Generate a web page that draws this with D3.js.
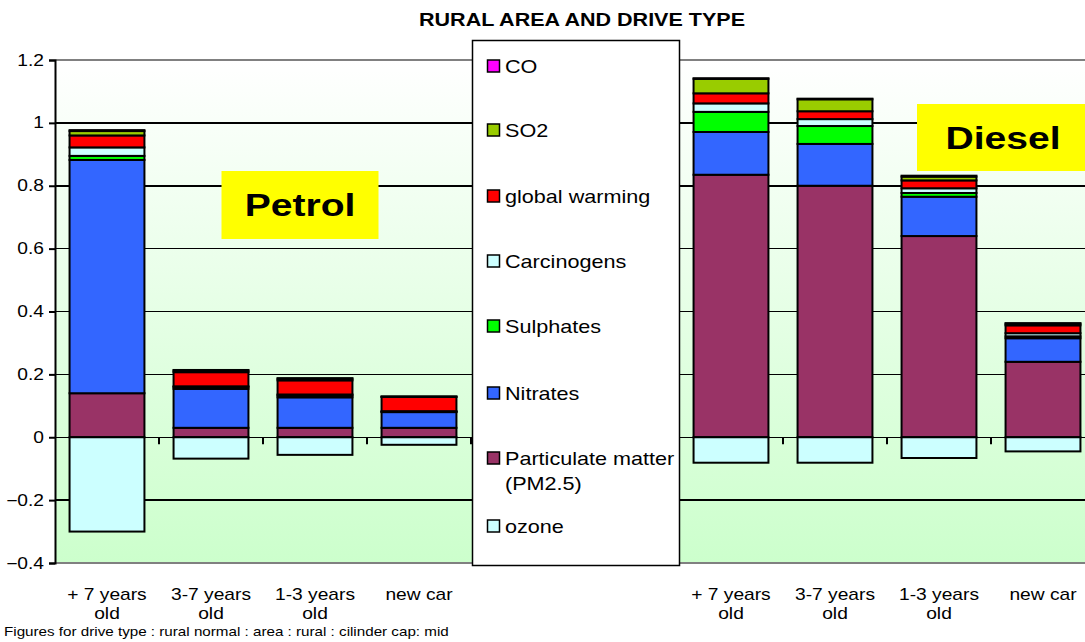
<!DOCTYPE html>
<html>
<head>
<meta charset="utf-8">
<script src="https://cdn.jsdelivr.net/npm/d3@7"></script>
<style>
  html, body { margin: 0; padding: 0; background: #ffffff; }
  svg { display: block; font-family: Arial, "Liberation Sans", sans-serif; }
</style>
</head>
<body>
<svg id="chart" width="1085" height="642"></svg>
<script>
// ---------------- DATA ----------------
const categories = ["+ 7 years|old", "3-7 years|old", "1-3 years|old", "new car", "", "",
                    "+ 7 years|old", "3-7 years|old", "1-3 years|old", "new car"];
const yTicks = [-0.4, -0.2, 0, 0.2, 0.4, 0.6, 0.8, 1, 1.2];

const ozone        = [-0.30, -0.068, -0.056, -0.024, null, null, -0.081, -0.081, -0.066, -0.045];
const particulate  = [0.140, 0.030, 0.030, 0.030, null, null, 0.835, 0.800, 0.640, 0.240];
const nitrates     = [0.742, 0.124, 0.097, 0.050, null, null, 0.136, 0.133, 0.125, 0.075];
const sulphates    = [0.013, 0.006, 0.006, 0.001, null, null, 0.064, 0.057, 0.012, 0.006];
const carcinogens  = [0.027, 0.002, 0.003, 0.002, null, null, 0.027, 0.022, 0.015, 0.010];
const globalWarm   = [0.038, 0.045, 0.045, 0.045, null, null, 0.032, 0.025, 0.025, 0.025];
const so2          = [0.014, 0.005, 0.005, 0.001, null, null, 0.046, 0.038, 0.012, 0.005];
const co           = [0.003, 0.002, 0.002, 0.001, null, null, 0.002, 0.002, 0.003, 0.002];

const seriesNames  = ["Particulate matter (PM2.5)", "Nitrates", "Sulphates", "Carcinogens", "global warming", "SO2", "CO"];
const seriesValues = [particulate, nitrates, sulphates, carcinogens, globalWarm, so2, co];
const seriesColors = ["#993366", "#3366ff", "#00ff00", "#ccffff", "#ff0000", "#99cc00", "#ff00ff"];
const ozoneColor = "#ccffff";

const legendNames  = ["CO", "SO2", "global warming", "Carcinogens", "Sulphates", "Nitrates", "Particulate matter|(PM2.5)", "ozone"];
const legendColors = ["#ff00ff", "#99cc00", "#ff0000", "#ccffff", "#00ff00", "#3366ff", "#993366", "#ccffff"];

const title = "RURAL AREA AND DRIVE TYPE";
const footnote = "Figures for drive type : rural normal : area : rural : cilinder cap: mid";

// ---------------- LAYOUT ----------------
const SX = 1.2; // horizontal stretch of the reference's lettering
const svg = d3.select("#chart");
const plot = { left: 55, right: 1095, top: 60, bottom: 563 };

function txt(parent, x, y, s, size, anchor, weight, sx) {
  return parent.append("text")
    .attr("transform", `translate(${x},${y}) scale(${sx || SX},1)`)
    .attr("text-anchor", anchor || "start")
    .attr("font-size", size)
    .attr("font-weight", weight || "normal")
    .attr("fill", "#000")
    .text(s);
}

const keys = categories.map((c, i) => i);
const x = d3.scaleBand().domain(keys).range([plot.left, plot.right])
  .paddingInner(0.28).paddingOuter(0.14);
const y = d3.scaleLinear().domain([-0.4, 1.2]).range([plot.bottom, plot.top]);

// background gradient
const defs = svg.append("defs");
const grad = defs.append("linearGradient").attr("id", "bg")
  .attr("x1", 0).attr("y1", 0).attr("x2", 0).attr("y2", 1);
grad.append("stop").attr("offset", "0%").attr("stop-color", "#ffffff");
grad.append("stop").attr("offset", "100%").attr("stop-color", "#ccffcc");

svg.append("rect")
  .attr("x", plot.left).attr("y", plot.top)
  .attr("width", plot.right - plot.left).attr("height", plot.bottom - plot.top)
  .attr("fill", "url(#bg)");

// gridlines
svg.append("g").selectAll("line").data(yTicks).join("line")
  .attr("x1", plot.left).attr("x2", plot.right)
  .attr("y1", d => y(d)).attr("y2", d => y(d))
  .attr("stroke", d => (d === 1.2 || d === -0.4) ? "#808080" : "#000")
  .attr("stroke-width", 1.5)
  .attr("shape-rendering", "crispEdges");

// y axis
const yAxis = d3.axisLeft(y).tickValues(yTicks).tickSize(6).tickPadding(5)
  .tickFormat(d => d3.format("")(+d.toFixed(1)));
const ga = svg.append("g").attr("transform", `translate(${plot.left},0)`).call(yAxis);
ga.select(".domain").attr("stroke", "#000").attr("stroke-width", 2);
ga.selectAll(".tick line").attr("stroke", "#000").attr("stroke-width", 2);
ga.selectAll(".tick text")
  .attr("font-size", 16).attr("fill", "#000")
  .attr("font-family", "Arial, 'Liberation Sans', sans-serif")
  .attr("x", null)
  .attr("transform", `translate(-11,0) scale(${SX},1)`);

// category tick marks below zero line
const boundaries = keys.slice(1).map(k => x(k) - x.step() * x.paddingInner() / 2);
svg.append("g").selectAll("line").data(boundaries).join("line")
  .attr("x1", d => d).attr("x2", d => d)
  .attr("y1", y(0)).attr("y2", y(0) + 7)
  .attr("stroke", "#000").attr("stroke-width", 2);

// stacked positive series
const rows = keys.map(i => {
  const r = { key: i };
  seriesNames.forEach((n, j) => r[n] = seriesValues[j][i] == null ? 0 : seriesValues[j][i]);
  return r;
});
const stacked = d3.stack().keys(seriesNames)(rows);

const barsG = svg.append("g");
stacked.forEach((layer, j) => {
  barsG.append("g").selectAll("rect")
    .data(layer.filter(d => d[1] - d[0] > 0))
    .join("rect")
    .attr("x", d => x(d.data.key))
    .attr("width", x.bandwidth())
    .attr("y", d => y(d[1]))
    .attr("height", d => y(d[0]) - y(d[1]))
    .attr("fill", seriesColors[j])
    .attr("stroke", "#000").attr("stroke-width", 2);
});
// negative ozone
barsG.append("g").selectAll("rect")
  .data(keys.filter(i => ozone[i] != null))
  .join("rect")
  .attr("x", i => x(i))
  .attr("width", x.bandwidth())
  .attr("y", y(0))
  .attr("height", i => y(ozone[i]) - y(0))
  .attr("fill", ozoneColor)
  .attr("stroke", "#000").attr("stroke-width", 2);

// category labels
const labG = svg.append("g");
keys.forEach(i => {
  if (!categories[i]) return;
  categories[i].split("|").forEach((t, li) => {
    txt(labG, x(i) + x.bandwidth() / 2, 600 + li * 19, t, 16, "middle");
  });
});

// title
txt(svg, 582, 26, title, 17.5, "middle", "bold", 1.23);

// Petrol / Diesel labels
function tag(cx, top, w, h, s) {
  svg.append("rect").attr("x", cx - w / 2).attr("y", top).attr("width", w).attr("height", h).attr("fill", "#ffff00");
  txt(svg, cx, top + h / 2 + 11, s, 31, "middle", "bold", 1.26);
}
tag(300, 171, 157, 68, "Petrol");
tag(1003, 104, 172, 67, "Diesel");

// legend
const lg = svg.append("g");
lg.append("rect").attr("x", 472.5).attr("y", 40.5).attr("width", 207).attr("height", 525)
  .attr("fill", "#fff").attr("stroke", "#000").attr("stroke-width", 1.5);
const legY = [67, 131, 197, 262, 327, 394, 459, 527];
legendNames.forEach((n, i) => {
  const cy = legY[i];
  lg.append("rect").attr("x", 487.5).attr("y", cy - 7).attr("width", 12).attr("height", 12)
    .attr("fill", legendColors[i]).attr("stroke", "#000").attr("stroke-width", 1.5);
  n.split("|").forEach((t, li) => {
    txt(lg, 505, cy + 6 + li * 25, t, 18, "start");
  });
});

// footnote
txt(svg, 4, 636, footnote, 13, "start", "normal", 1.17);
</script>
</body>
</html>
